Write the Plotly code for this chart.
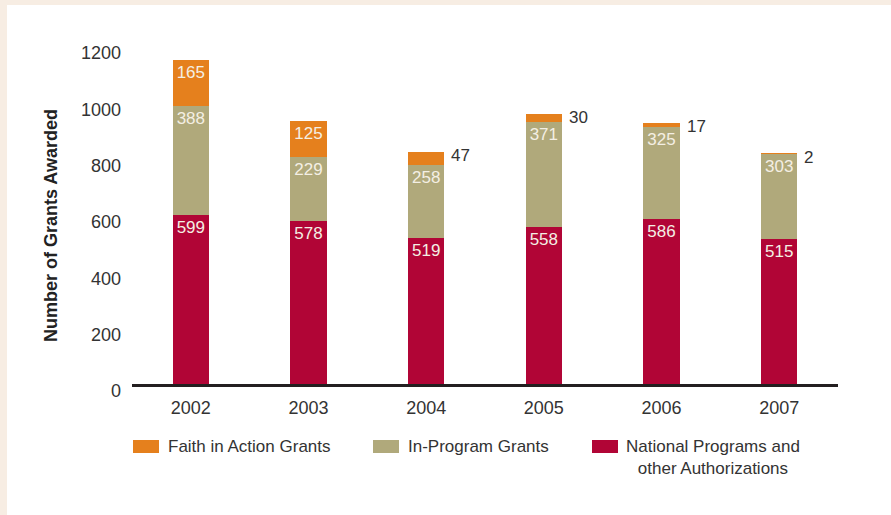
import plotly.graph_objects as go

years = ["2002", "2003", "2004", "2005", "2006", "2007"]
national = [599, 578, 519, 558, 586, 515]
in_program = [388, 229, 258, 371, 325, 303]
faith = [165, 125, 47, 30, 17, 2]

series_names = ["Faith in Action Grants", "In-Program Grants", "National Programs and<br>other Authorizations"]
colors = ["#e5801d", "#b0a97b", "#b10536"]
y_ticks = [0, 200, 400, 600, 800, 1000, 1200]
y_title = "Number of Grants Awarded"

FONT = "Liberation Sans, Arial, Helvetica, sans-serif"
TXT = "#333333"
INSIDE_TXT = "#f4efe4"
MIN_INSIDE = 100

W, H = 891, 515
L, R, T, B = 132, 53, 46, 131
pw, ph = W - L - R, H - T - B


def px2x(px):
    return (px - L) / pw


def px2y(py):
    return (H - B - py) / ph


def lbl(vals):
    return [str(v) if v >= MIN_INSIDE else "" for v in vals]


fig = go.Figure()
for vals, name, col in [(national, series_names[2], colors[2]),
                        (in_program, series_names[1], colors[1]),
                        (faith, series_names[0], colors[0])]:
    fig.add_trace(go.Bar(
        x=years, y=vals, name=name, marker=dict(color=col, line=dict(width=0)),
        text=lbl(vals), textposition="inside", insidetextanchor="end",
        textangle=0, constraintext="none",
        textfont=dict(family=FONT, size=17, color=INSIDE_TXT),
        showlegend=False, hoverinfo="skip",
    ))

annotations = []
# small values shown outside, to the right of the stack top
for i, (n, p, f) in enumerate(zip(national, in_program, faith)):
    if f < MIN_INSIDE:
        annotations.append(dict(
            x=i, y=n + p + f, xref="x", yref="y", text=str(f), showarrow=False,
            xanchor="left", yanchor="middle", xshift=23, yshift=-4,
            font=dict(family=FONT, size=17, color=TXT)))

# y-axis title
annotations.append(dict(
    x=px2x(51), y=px2y(226), xref="paper", yref="paper", text="<b>" + y_title + "</b>",
    textangle=-90, showarrow=False, xanchor="center", yanchor="middle",
    font=dict(family=FONT, size=18, color="#222222")))

shapes = [dict(type="rect", xref="paper", yref="paper", layer="below",
               x0=px2x(7), x1=px2x(W + 2), y0=px2y(H + 2), y1=px2y(5),
               fillcolor="white", line=dict(width=0))]

# legend
sw_left = [133, 373, 592]
txt_left = [166, 406, None]
for i, (name, col) in enumerate(zip(series_names, colors)):
    shapes.append(dict(type="rect", xref="paper", yref="paper",
                       x0=px2x(sw_left[i]), x1=px2x(sw_left[i] + 26),
                       y0=px2y(453), y1=px2y(440),
                       fillcolor=col, line=dict(width=0)))
    if txt_left[i] is not None:
        annotations.append(dict(x=px2x(txt_left[i]), y=px2y(446.5), xref="paper", yref="paper",
                                text=name, showarrow=False, xanchor="left", yanchor="middle",
                                font=dict(family=FONT, size=17, color=TXT)))
    else:
        annotations.append(dict(x=px2x(713), y=px2y(457.3), xref="paper", yref="paper",
                                text=name, showarrow=False, xanchor="center", yanchor="middle",
                                align="center",
                                font=dict(family=FONT, size=17, color=TXT)))

fig.update_layout(
    width=W, height=H, margin=dict(l=L, r=R, t=T, b=B, autoexpand=False),
    paper_bgcolor="#f7ede3", plot_bgcolor="white",
    barmode="stack", bargap=0.69,
    uniformtext=dict(minsize=17, mode="show"),
    font=dict(family=FONT, color=TXT),
    shapes=shapes, annotations=annotations,
    xaxis=dict(type="category", range=[-0.5, len(years) - 0.5],
               showline=True, linecolor="#231f20", linewidth=3, ticks="",
               showgrid=False, zeroline=False, tickfont=dict(size=18, color=TXT),
               ticklabelstandoff=5, fixedrange=True),
    yaxis=dict(range=[0, 1200], tickvals=y_ticks, showline=False, ticks="",
               showgrid=False, zeroline=False, tickfont=dict(size=18, color=TXT),
               ticklabelshift=7, ticklabelstandoff=10, fixedrange=True),
)

fig.write_html("out.html", config={"displayModeBar": False},
               post_script="document.body.style.margin='0';")
